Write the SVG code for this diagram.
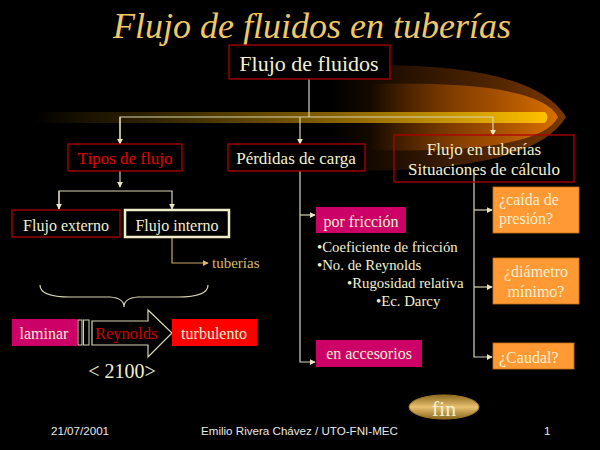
<svg xmlns="http://www.w3.org/2000/svg" width="600" height="450" viewBox="0 0 600 450">
<defs>
<style>
.t{font-family:"Liberation Serif","Times New Roman",serif;fill:#f2f0d2}
.c{stroke:#d8d6b0;stroke-width:1.2;fill:none}
.rb{fill:#000;stroke:#b00000;stroke-width:1.3}
.f{font-family:"Liberation Sans",Arial,sans-serif;font-size:11.6px;fill:#e8e8e8}
</style>
<marker id="ah" viewBox="0 0 8 8" refX="7" refY="4" markerWidth="6" markerHeight="6" orient="auto" markerUnits="userSpaceOnUse">
<path d="M0,0 L8,4 L0,8 z" fill="#e8e6c0"/>
</marker>
<marker id="ahg" viewBox="0 0 8 8" refX="7" refY="4" markerWidth="6" markerHeight="6" orient="auto" markerUnits="userSpaceOnUse">
<path d="M0,0 L8,4 L0,8 z" fill="#d8b870"/>
</marker>
<linearGradient id="gOuter" x1="0" x2="1" y1="0" y2="0">
<stop offset="0" stop-color="#4a2200" stop-opacity="0"/>
<stop offset="0.5" stop-color="#4a2200" stop-opacity="0.8"/>
<stop offset="1" stop-color="#7a3800"/>
</linearGradient>
<linearGradient id="gInner" x1="0" x2="1" y1="0" y2="0">
<stop offset="0" stop-color="#a85000" stop-opacity="0"/>
<stop offset="0.6" stop-color="#a85000" stop-opacity="0.85"/>
<stop offset="1" stop-color="#d87000"/>
</linearGradient>
<linearGradient id="gBar" x1="0" x2="1" y1="0" y2="0">
<stop offset="0" stop-color="#3a2a00" stop-opacity="0"/>
<stop offset="0.2" stop-color="#2a1e00"/>
<stop offset="0.6" stop-color="#8a6400"/>
<stop offset="1" stop-color="#ffc000"/>
</linearGradient>
<linearGradient id="gFin" x1="0" x2="0" y1="0" y2="1">
<stop offset="0" stop-color="#8a6a20"/>
<stop offset="0.5" stop-color="#e8c070"/>
<stop offset="1" stop-color="#8a6a20"/>
</linearGradient>
</defs>
<rect width="600" height="450" fill="#000"/>

<g id="glow">
<path d="M330,66 Q530,58 566,117 Q530,176 330,170 Z" fill="url(#gOuter)"/>
<path d="M370,84 Q540,80 558,117 Q540,154 370,150 Z" fill="url(#gInner)"/>
<path d="M35,112 L545,112 Q550,117 545,123 L35,123 Z" fill="url(#gBar)"/>
</g>

<text class="t" x="312" y="38" font-size="36" font-style="italic" text-anchor="middle" style="fill:#f0c868">Flujo de fluidos en tuberías</text>

<g id="connectors">
<path class="c" d="M309,79 V117"/>
<path class="c" d="M120,145 V117 H493 V135" marker-end="url(#ah)"/>
<path class="c" d="M120,117 V144" marker-end="url(#ah)"/>
<path class="c" d="M300,117 V144" marker-end="url(#ah)"/>
<path class="c" d="M120,171 V187" marker-end="url(#ah)"/>
<path class="c" d="M59,209 V191 H172 V209" marker-end="url(#ah)"/>
<path class="c" d="M59,191 V209" marker-end="url(#ah)"/>
<path d="M172,238 V263 H208" stroke="#c8a860" stroke-width="1.2" fill="none" marker-end="url(#ahg)"/>
<path class="c" d="M300,171 V362 H315" marker-end="url(#ah)"/>
<path class="c" d="M300,215 H315" marker-end="url(#ah)"/>
<path class="c" d="M474,174 V357 H492" marker-end="url(#ah)"/>
<path class="c" d="M474,210 H492" marker-end="url(#ah)"/>
<path class="c" d="M474,287 H492" marker-end="url(#ah)"/>
<path class="c" d="M40,285 Q40,297 70,297 L110,297 Q124,298 124,307 Q124,298 138,297 L178,297 Q208,297 208,285"/>
</g>

<g id="n_flujo">
<rect class="rb" x="229" y="45" width="161" height="34"/>
<text class="t" x="309" y="71" font-size="22" text-anchor="middle">Flujo de fluidos</text>
</g>

<g id="n_tipos">
<rect class="rb" x="68" y="144" width="114" height="27"/>
<text class="t" x="125" y="164" font-size="17" text-anchor="middle" style="fill:#e80000">Tipos de flujo</text>
</g>

<g id="n_perdidas">
<rect class="rb" x="228" y="144" width="137" height="27"/>
<text class="t" x="296" y="164" font-size="17" text-anchor="middle">Pérdidas de carga</text>
</g>

<g id="n_tuberias">
<rect class="rb" x="394" y="135" width="180" height="47" style="fill:none"/>
<text class="t" x="484" y="155" font-size="17" text-anchor="middle">Flujo en tuberías</text>
<text class="t" x="484" y="175" font-size="17" text-anchor="middle">Situaciones de cálculo</text>
</g>

<g id="n_externo">
<rect class="rb" x="12" y="210" width="108" height="27"/>
<text class="t" x="66" y="231" font-size="16" text-anchor="middle">Flujo externo</text>
</g>

<g id="n_interno">
<rect x="125" y="210" width="104" height="27" fill="#000" stroke="#f0eec8" stroke-width="2.5"/>
<text class="t" x="177" y="231" font-size="16" text-anchor="middle">Flujo interno</text>
</g>

<g id="n_tub_label">
<text class="t" x="212" y="268" font-size="15" style="fill:#d8b870">tuberías</text>
</g>

<g id="n_friccion">
<rect x="316" y="207" width="90" height="26" fill="#cc0066"/>
<text class="t" x="361" y="227" font-size="16" text-anchor="middle">por fricción</text>
</g>

<g id="n_bullets">
<text class="t" x="317" y="252" font-size="14.8">•Coeficiente de fricción</text>
<text class="t" x="317" y="270" font-size="14.8">•No. de Reynolds</text>
<text class="t" x="347" y="288" font-size="14.8">•Rugosidad relativa</text>
<text class="t" x="376" y="306" font-size="14.8">•Ec. Darcy</text>
</g>

<g id="n_accesorios">
<rect x="316" y="340" width="106" height="27" fill="#cc0066"/>
<text class="t" x="369" y="359" font-size="16" text-anchor="middle">en accesorios</text>
</g>

<g id="n_caida">
<rect x="493" y="187" width="86" height="46" fill="#ff9933" stroke="#c07020" stroke-width="0.8"/>
<text class="t" x="499" y="205" font-size="16">¿caída de</text>
<text class="t" x="499" y="224" font-size="16">presión?</text>
</g>

<g id="n_diametro">
<rect x="493" y="258" width="86" height="46" fill="#ff9933" stroke="#c07020" stroke-width="0.8"/>
<text class="t" x="536" y="277" font-size="16" text-anchor="middle">¿diámetro</text>
<text class="t" x="536" y="297" font-size="16" text-anchor="middle">mínimo?</text>
</g>

<g id="n_caudal">
<rect x="493" y="343" width="81" height="26" fill="#ff9933" stroke="#c07020" stroke-width="0.8"/>
<text class="t" x="499" y="363" font-size="16">¿Caudal?</text>
</g>

<g id="n_laminar">
<rect x="12" y="319" width="65" height="27" fill="#cc0066"/>
<text class="t" x="44" y="339" font-size="16" text-anchor="middle">laminar</text>
<rect x="78" y="320" width="4" height="25" fill="#000" stroke="#d8d6b0" stroke-width="1"/>
<rect x="83.5" y="320" width="5.5" height="25" fill="#000" stroke="#d8d6b0" stroke-width="1"/>
</g>

<g id="n_reynolds">
<path d="M92,321 H148 V310 L172,333 L148,357 V345 H92 Z" fill="#000" stroke="#d8d6b0" stroke-width="1.2"/>
<text class="t" x="95" y="339" font-size="16.5" style="fill:#d00000">Reynolds</text>
</g>

<g id="n_turbulento">
<rect x="172" y="319" width="85" height="27" fill="#ff0000"/>
<text class="t" x="214" y="339" font-size="16" text-anchor="middle">turbulento</text>
</g>

<text class="t" x="122" y="378" font-size="20" text-anchor="middle">&lt; 2100&gt;</text>

<g id="n_fin">
<ellipse cx="444" cy="407" rx="35" ry="12" fill="url(#gFin)" stroke="#a07820" stroke-width="1"/>
<text class="t" x="444" y="416" font-size="22" text-anchor="middle">fin</text>
</g>

<text class="f" x="51" y="435">21/07/2001</text>
<text class="f" x="201" y="435">Emilio Rivera Chávez / UTO-FNI-MEC</text>
<text class="f" x="544" y="435">1</text>
</svg>
